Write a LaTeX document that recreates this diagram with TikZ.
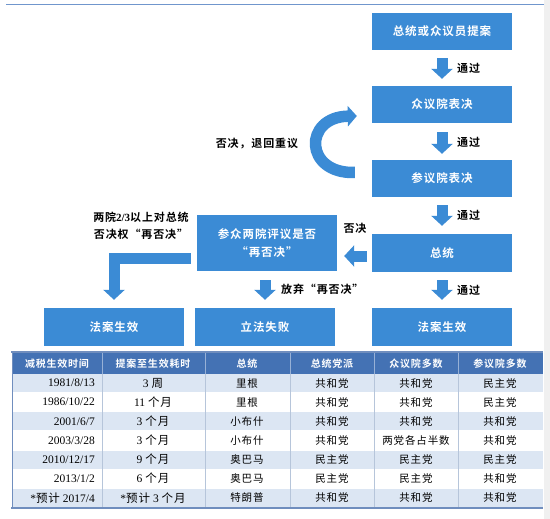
\documentclass[tikz,border=0pt]{standalone}
\usepackage{fontspec}
\setmainfont{Liberation Serif}
\newfontfamily\cjk{Noto Sans CJK SC}[LetterSpace=8,BoldFont={Noto Sans CJK SC Bold}]
\usetikzlibrary{arrows.meta,calc}
\definecolor{boxblue}{RGB}{59,139,213}
\definecolor{hdrblue}{RGB}{68,114,180}
\definecolor{rowblue}{RGB}{220,230,243}
\definecolor{tblline}{RGB}{112,142,190}
\definecolor{sepgray}{RGB}{182,197,218}
\definecolor{topline}{RGB}{112,150,205}
\newcommand\zhtxt[1]{{\cjk #1}}
\newcommand\tabrow[7]{%
  \node[dcell,anchor=east] (r#1c1) at (95,{373.5+(#1-0.5)*19.1}) {#2};
  \node[dcell] (r#1c2) at (153,{373.5+(#1-0.5)*19.1}) {#3};
  \node[zcell] (r#1c3) at (247,{373.5+(#1-0.5)*19.1}) {#4};
  \node[zcell] (r#1c4) at (332,{373.5+(#1-0.5)*19.1}) {#5};
  \node[zcell] (r#1c5) at (416,{373.5+(#1-0.5)*19.1}) {#6};
  \node[zcell] (r#1c6) at (500,{373.5+(#1-0.5)*19.1}) {#7};
}
\begin{document}
\begin{tikzpicture}[x=1pt,y=-1pt,
  box/.style={fill=boxblue,draw=none,minimum width=140pt,minimum height=37pt,inner sep=0pt,
    text=white,align=center,font=\cjk\bfseries\fontsize{11.5}{18}\selectfont},
  lbl/.style={inner sep=0pt,align=center,font=\cjk\bfseries\fontsize{11}{17}\selectfont},
  barrow/.style={draw=boxblue,line width=11pt,line join=miter,-{Triangle[width=21pt,length=10pt]}},
  hcell/.style={inner sep=0pt,text=white,font=\cjk\bfseries\fontsize{10}{12}\selectfont},
  dcell/.style={inner sep=0pt,font=\fontsize{11.5}{13}\selectfont},
  zcell/.style={inner sep=0pt,font=\cjk\fontsize{10.5}{13}\selectfont}]
\useasboundingbox (0,0) rectangle (550,519);
\fill[white] (0,0) rectangle (550,519);
\fill[gray!12] (544,0) rectangle (550,519);
\draw[topline,line width=1.6pt] (6,4.5) -- (544,4.5);

% flow boxes
\node[box] (b1) at (442,31.5) {总统或众议员提案};
\node[box] (b2) at (442,104.5) {众议院表决};
\node[box] (b3) at (442,178.5) {参议院表决};
\node[box,minimum height=38pt] (b4) at (442,253) {总统};
\node[box,minimum height=56pt] (b5) at (267,243) {参众两院评议是否\\“再否决”};
\node[box,minimum height=38pt] (bA) at (114,327) {法案生效};
\node[box,minimum height=38pt] (bB) at (265,327) {立法失败};
\node[box,minimum height=38pt] (bC) at (442,327) {法案生效};

% arrows
\draw[barrow] ([yshift=-8pt]b1.south) -- ([yshift=7pt]b2.north);
\draw[barrow] ([yshift=-9pt]b2.south) -- ([yshift=6pt]b3.north);
\draw[barrow] ([yshift=-8pt]b3.south) -- ([yshift=8pt]b4.north);
\draw[barrow] ([yshift=-8pt]b4.south) -- ([yshift=8pt]bC.north);
\draw[barrow] ($(b5.south -| bB.north)+(0,9)$) -- ($(bB.north)+(0,-8)$);
\coordinate (la1) at ([xshift=-5pt,yshift=-3pt]b4.west);
\draw[barrow] (la1) -- ($(la1 -| b5.east)+(7,0)$);
\coordinate (lstart) at ($(b5.west)+(-6,15)$);
\draw[barrow] (lstart) -- (lstart -| bA.north) -- ($(bA.north)+(0,-8)$);
\coordinate (cstart) at ($(b3.west)+(-17,-6)$);
\coordinate (cend) at ($(b2.west)+(-15,11.5)$);
\draw[barrow,line width=11.5pt,-{Triangle[width=20pt,length=9pt]}] (cstart) .. controls (304,174) and (303,117) .. (cend);

% labels
\node[lbl,anchor=west] (l1) at ($(b1.south)!0.5!(b2.north)+(15,0)$) {通过};
\node[lbl,anchor=west] (l2) at ($(b2.south)!0.5!(b3.north)+(15,1)$) {通过};
\node[lbl,anchor=west] (l3) at ($(b3.south)!0.5!(b4.north)+(15,0)$) {通过};
\node[lbl,anchor=west] (l4) at ($(b4.south)!0.5!(bC.north)+(15,0)$) {通过};
\node[lbl,anchor=west] (l5) at ($(b5.south -| bB.north)!0.5!(bB.north)+(16,0)$) {放弃“再否决”};
\node[lbl] (l6) at (355,228) {否决};
\node[lbl] (l7) at (257,144) {否决，退回重议};
\node[lbl] (l8) at (141,225.5) {两院{\fontspec{Liberation Serif}\bfseries 2/3}以上对总统\\否决权“再否决”};

% table
\fill[hdrblue] (12,353) rectangle (543,373.5);
\foreach \i in {1,3,5,7} \fill[rowblue] (12,{373.5+(\i-1)*19.1}) rectangle (543,{373.5+\i*19.1});
\foreach \i in {1,...,6} \draw[white,line width=0.8pt] (12,{373.5+\i*19.1}) -- (543,{373.5+\i*19.1});
\foreach \x in {102,205,290,374,458} {
  \draw[hdrblue!55!white,line width=0.6pt] (\x,353) -- (\x,373.5);
  \draw[sepgray,line width=0.8pt] (\x,373.5) -- (\x,507.2);
}
\draw[tblline,line width=2pt] (11,352) -- (543,352);
\draw[tblline,line width=0.8pt] (12,352) -- (12,508);
\draw[tblline,line width=1.6pt] (11,508) -- (543,508);

\node[hcell] (h1) at (57,363.5) {减税生效时间};
\node[hcell] (h2) at (153,363.5) {提案至生效耗时};
\node[hcell] (h3) at (247,363.5) {总统};
\node[hcell] (h4) at (332,363.5) {总统党派};
\node[hcell] (h5) at (416,363.5) {众议院多数};
\node[hcell] (h6) at (500,363.5) {参议院多数};

\tabrow{1}{1981/8/13}{3 \zhtxt{周}}{里根}{共和党}{共和党}{民主党}
\tabrow{2}{1986/10/22}{11 \zhtxt{个月}}{里根}{共和党}{共和党}{民主党}
\tabrow{3}{2001/6/7}{3 \zhtxt{个月}}{小布什}{共和党}{共和党}{共和党}
\tabrow{4}{2003/3/28}{3 \zhtxt{个月}}{小布什}{共和党}{两党各占半数}{共和党}
\tabrow{5}{2010/12/17}{9 \zhtxt{个月}}{奥巴马}{民主党}{民主党}{民主党}
\tabrow{6}{2013/1/2}{6 \zhtxt{个月}}{奥巴马}{民主党}{民主党}{共和党}
\tabrow{7}{*\zhtxt{预计} 2017/4}{*\zhtxt{预计} 3 \zhtxt{个月}}{特朗普}{共和党}{共和党}{共和党}
\end{tikzpicture}
\end{document}
